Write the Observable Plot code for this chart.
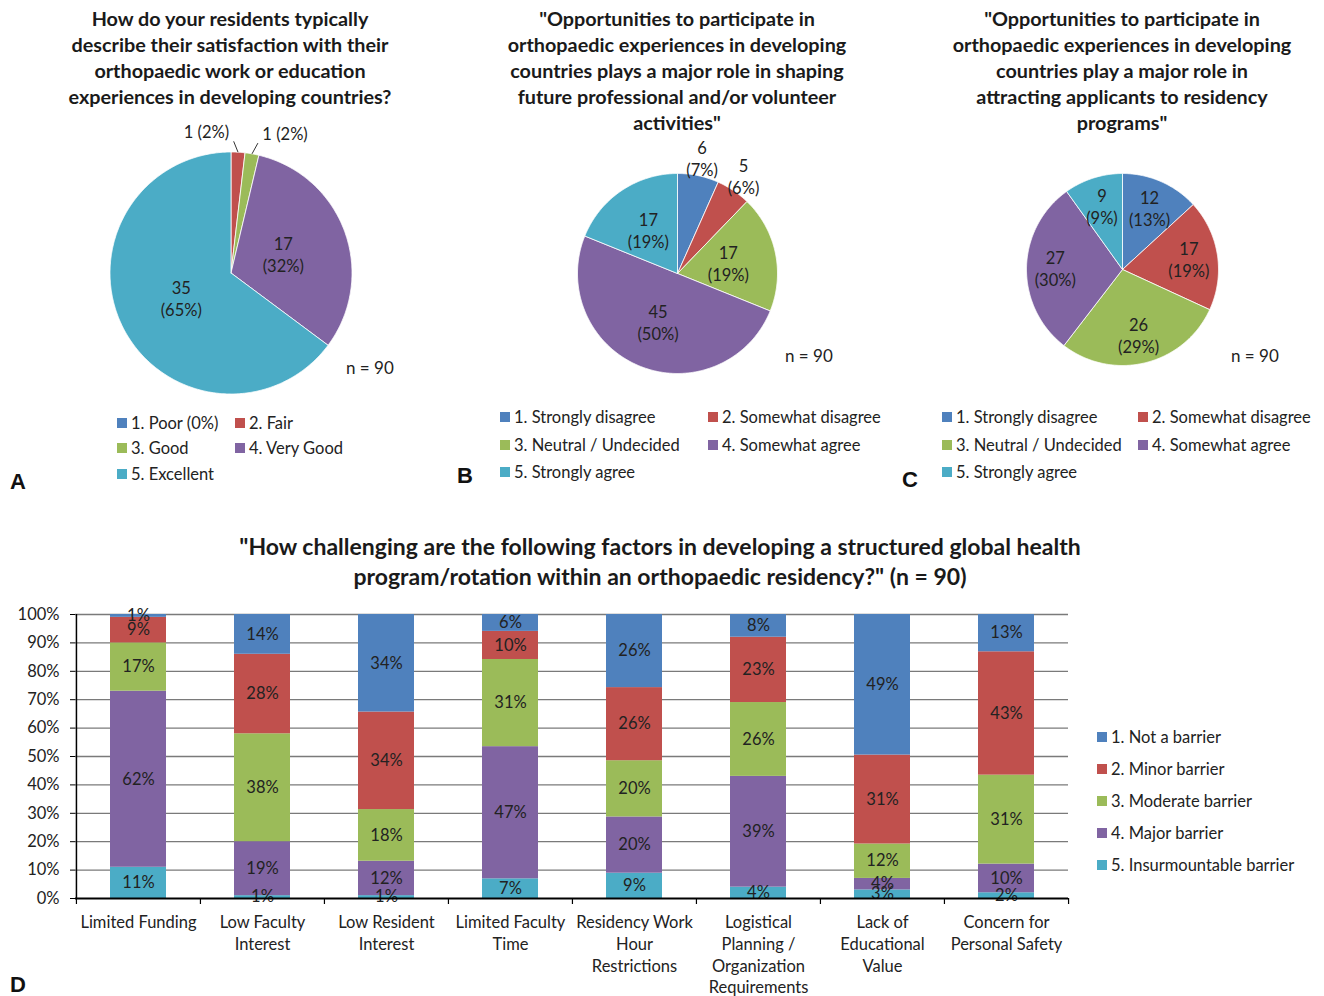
<!DOCTYPE html>
<html><head><meta charset="utf-8">
<script src="https://cdn.jsdelivr.net/npm/d3@7"></script>
<script src="https://cdn.jsdelivr.net/npm/@observablehq/plot@0.6"></script>
<style>
body{margin:0;background:#fff;}
#root{position:relative;width:1324px;height:996px;font-family:Lato,"Open Sans",sans-serif;color:#222;overflow:hidden;}
.abs{position:absolute;white-space:nowrap;}
.title{font-weight:bold;font-size:19.8px;line-height:26px;text-align:center;width:460px;color:#1a1a1a;}
.leg{font-size:16.5px;line-height:18px;display:flex;align-items:center;}
.sw{display:inline-block;width:10px;height:10px;margin-right:4px;}
.nlab{font-size:17px;line-height:20px;}
.letter{font-family:"Liberation Sans",Arial,sans-serif;font-weight:bold;font-size:22px;line-height:24px;color:#111;}
</style></head>
<body><div id="root"></div>
<script>
// ---------- data ----------
const colors5 = ["#4F81BD","#C0504D","#9BBB59","#8064A2","#4BACC6"];

const pieAcats = ["1. Poor (0%)","2. Fair","3. Good","4. Very Good","5. Excellent"];
const pieAvalues = [0,1,1,17,35];
const pieApcts = ["0%","2%","2%","32%","65%"];

const agreeCats = ["1. Strongly disagree","2. Somewhat disagree","3. Neutral / Undecided","4. Somewhat agree","5. Strongly agree"];
const pieBvalues = [6,5,17,45,17];
const pieBpcts = ["7%","6%","19%","50%","19%"];
const pieCvalues = [12,17,26,27,9];
const pieCpcts = ["13%","19%","29%","30%","9%"];

const barrierCats = ["1. Not a barrier","2. Minor barrier","3. Moderate barrier","4. Major barrier","5. Insurmountable barrier"];
const factors = ["Limited Funding","Low Faculty Interest","Low Resident Interest","Limited Faculty Time","Residency Work Hour Restrictions","Logistical Planning / Organization Requirements","Lack of Educational Value","Concern for Personal Safety"];
const factorTickLabels = ["Limited Funding","Low Faculty\nInterest","Low Resident\nInterest","Limited Faculty\nTime","Residency Work\nHour\nRestrictions","Logistical\nPlanning /\nOrganization\nRequirements","Lack of\nEducational\nValue","Concern for\nPersonal Safety"];
const notBarrier      = [1,14,34,6,26,8,49,13];
const minorBarrier    = [9,28,34,10,26,23,31,43];
const moderateBarrier = [17,38,18,31,20,26,12,31];
const majorBarrier    = [62,19,12,47,20,39,4,10];
const insurmountable  = [11,1,1,7,9,4,3,2];
const yTicks = [0,0.1,0.2,0.3,0.4,0.5,0.6,0.7,0.8,0.9,1];

// ---------- helpers ----------
const root = document.getElementById("root");
function addDiv(cls, html, left, top, extra) {
  const d = document.createElement("div");
  d.className = "abs " + cls;
  d.innerHTML = html;
  d.style.left = left + "px"; d.style.top = top + "px";
  if (extra) Object.assign(d.style, extra);
  root.appendChild(d);
  return d;
}
function legendItem(label, color, x, yc) {
  addDiv("leg", `<span class="sw" style="background:${color}"></span>${label}`, x, yc - 9);
}
function place(svg, left, top) {
  svg.style.position = "absolute";
  svg.style.left = left + "px";
  svg.style.top = top + "px";
  root.appendChild(svg);
}
const FONT = "Lato, 'Open Sans', sans-serif";
const LABEL_SIZE = 16.5;

function pieChart(cats, values, pcts, cx, cy, r, labelR) {
  const pad = 1.5;
  const size = 2 * pad * r;
  const total = d3.sum(values);
  const arcs = d3.pie().sort(null)(values);
  const poly = [];
  const insideLabels = [], endLabels = [], startLabels = [], leaders = [];
  let smallCount = 0;
  arcs.forEach((a, i) => {
    if (a.value <= 0) return;
    const n = Math.max(2, Math.ceil((a.endAngle - a.startAngle) / 0.01));
    poly.push({k: cats[i], x: 0, y: 0});
    for (let j = 0; j <= n; j++) {
      const t = a.startAngle + (a.endAngle - a.startAngle) * j / n;
      poly.push({k: cats[i], x: Math.sin(t), y: Math.cos(t)});
    }
    poly.push({k: cats[i], x: 0, y: 0});
    const mid = (a.startAngle + a.endAngle) / 2;
    const share = a.value / total;
    if (share < 0.03) {
      const rr = 1.16;
      const left = smallCount === 0;
      const lab = {x: Math.sin(mid) * rr, y: Math.cos(mid) * rr, text: `${a.value} (${pcts[i]})`};
      (left ? endLabels : startLabels).push(lab);
      const shift = (left ? -5 : 4) / r;
      leaders.push({x1: Math.sin(mid), y1: Math.cos(mid), x2: Math.sin(mid) * 1.09 + shift, y2: Math.cos(mid) * 1.09});
      smallCount++;
    } else if (share < 0.08) {
      const rr = 1.18;
      insideLabels.push({x: Math.sin(mid) * rr, y: Math.cos(mid) * rr, text: `${a.value}\n(${pcts[i]})`});
    } else {
      insideLabels.push({x: Math.sin(mid) * labelR, y: Math.cos(mid) * labelR, text: `${a.value}\n(${pcts[i]})`});
    }
  });
  const svg = Plot.plot({
    width: size, height: size,
    marginLeft: 0, marginRight: 0, marginTop: 0, marginBottom: 0,
    x: {domain: [-pad, pad], axis: null},
    y: {domain: [-pad, pad], axis: null},
    color: {domain: cats, range: colors5},
    style: {background: "transparent", fontFamily: FONT, fontSize: "15px", color: "#222", overflow: "visible"},
    marks: [
      Plot.line(poly, {x: "x", y: "y", z: "k", fill: "k", stroke: "white", strokeWidth: 0.8, curve: "linear"}),
      Plot.link(leaders, {x1: "x1", y1: "y1", x2: "x2", y2: "y2", stroke: "#333", strokeWidth: 1}),
      Plot.text(insideLabels, {x: "x", y: "y", text: "text", fill: "#222", fontSize: LABEL_SIZE, lineHeight: 1.33}),
      Plot.text(endLabels, {x: "x", y: "y", text: "text", fill: "#222", fontSize: LABEL_SIZE, textAnchor: "end", dx: -10}),
      Plot.text(startLabels, {x: "x", y: "y", text: "text", fill: "#222", fontSize: LABEL_SIZE, textAnchor: "start", dx: 7})
    ]
  });
  place(svg, cx - pad * r, cy - pad * r);
}

// ---------- pies ----------
pieChart(pieAcats, pieAvalues, pieApcts, 230, 272, 121, 0.46);
pieChart(agreeCats, pieBvalues, pieBpcts, 677, 273, 100, 0.52);
pieChart(agreeCats, pieCvalues, pieCpcts, 1122, 269, 96, 0.7);

// ---------- bar chart ----------
const series = [
  {name: barrierCats[4], values: insurmountable},
  {name: barrierCats[3], values: majorBarrier},
  {name: barrierCats[2], values: moderateBarrier},
  {name: barrierCats[1], values: minorBarrier},
  {name: barrierCats[0], values: notBarrier}
];
const barRows = [];
factors.forEach((f, i) => series.forEach(s => barRows.push({factor: f, level: s.name, value: s.values[i]})));

const plotLeft = 75, plotRight = 1068;
const step = (plotRight - plotLeft) / factors.length;
const bar = Plot.plot({
  width: 1080, height: 396,
  marginLeft: plotLeft, marginRight: 1080 - plotRight, marginTop: 14, marginBottom: 98,
  x: {domain: factors, paddingInner: 0.55, paddingOuter: 0.275, label: null, axis: null},
  y: {domain: [0, 1], label: null, axis: null},
  color: {domain: barrierCats, range: colors5},
  style: {background: "transparent", fontFamily: FONT, fontSize: "15px", color: "#222", overflow: "visible"},
  marks: [
    Plot.ruleY(yTicks.slice(1), {stroke: "#7a7a7a", strokeWidth: 1.3}),
    Plot.barY(barRows, Plot.stackY({x: "factor", y: "value", z: "level", fill: "level", offset: "normalize"})),
    Plot.text(barRows, Plot.stackY({x: "factor", y: "value", z: "level", offset: "normalize", text: d => d.value + "%", fill: "#222", fontSize: LABEL_SIZE})),
    Plot.ruleY([0], {stroke: "black", strokeWidth: 2}),
    Plot.ruleX([factors[0]], {x: d => d, dx: -step / 2, y1: 0, y2: 1, stroke: "black", strokeWidth: 1.5}),
    Plot.ruleX(factors, {x: d => d, dx: -step / 2, y1: 0, y2: 0, insetBottom: -6, stroke: "black", strokeWidth: 1.2}),
    Plot.ruleX([factors[factors.length - 1]], {x: d => d, dx: step / 2, y1: 0, y2: 0, insetBottom: -6, stroke: "black", strokeWidth: 1.2}),
    Plot.axisY({ticks: yTicks, tickFormat: d => Math.round(d * 100) + "%", tickSize: 5, tickPadding: 11, fontSize: LABEL_SIZE, stroke: "black", fill: "#222", label: null}),
    Plot.axisX({tickSize: 0, tickPadding: 14, tickFormat: d => factorTickLabels[factors.indexOf(d)], lineHeight: 1.32, fontSize: LABEL_SIZE, fill: "#222", label: null})
  ]
});
place(bar, 0, 600);

// ---------- text ----------
addDiv("title", "How do your residents typically<br>describe their satisfaction with their<br>orthopaedic work or education<br>experiences in developing countries?", 230 - 230, 5);
addDiv("title", "\"Opportunities to participate in<br>orthopaedic experiences in developing<br>countries plays a major role in shaping<br>future professional and/or volunteer<br>activities\"", 677 - 230, 5);
addDiv("title", "\"Opportunities to participate in<br>orthopaedic experiences in developing<br>countries play a major role in<br>attracting applicants to residency<br>programs\"", 1122 - 230, 5);
addDiv("title", "\"How challenging are the following factors in developing a structured global health<br>program/rotation within an orthopaedic residency?\" (n = 90)", 160, 531, {width: "1000px", fontSize: "23px", lineHeight: "30px"});

addDiv("nlab", "n = 90", 346, 358);
addDiv("nlab", "n = 90", 785, 346);
addDiv("nlab", "n = 90", 1231, 346);

addDiv("letter", "A", 10, 470);
addDiv("letter", "B", 457, 464);
addDiv("letter", "C", 902, 468);
addDiv("letter", "D", 10, 973);

// legends
const legA = [[117,423],[235,423],[117,448],[235,448],[117,474]];
pieAcats.forEach((c, i) => legendItem(c, colors5[i], legA[i][0], legA[i][1]));
const legB = [[500,417],[708,417],[500,445],[708,445],[500,472]];
agreeCats.forEach((c, i) => legendItem(c, colors5[i], legB[i][0], legB[i][1]));
const legC = [[942,417],[1138,417],[942,445],[1138,445],[942,472]];
agreeCats.forEach((c, i) => legendItem(c, colors5[i], legC[i][0], legC[i][1]));
barrierCats.forEach((c, i) => legendItem(c, colors5[i], 1097, 737 + 32 * i));
</script>
</body></html>
